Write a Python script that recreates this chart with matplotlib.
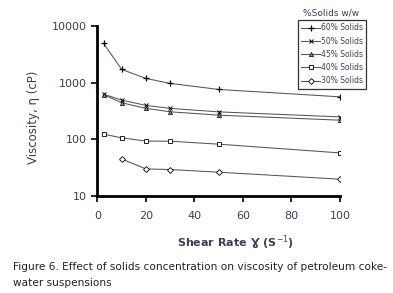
import matplotlib
matplotlib.use("Agg")
import matplotlib.pyplot as plt

shear_60 = [2.5, 10, 20, 30, 50, 100]
visc_60 = [4900, 1700, 1180, 965, 755, 560]
shear_50 = [2.5, 10, 20, 30, 50, 100]
visc_50 = [625, 490, 395, 350, 304, 248]
shear_45 = [2.5, 10, 20, 30, 50, 100]
visc_45 = [610, 440, 350, 305, 266, 217]
shear_40 = [2.5, 10, 20, 30, 50, 100]
visc_40 = [123, 106, 93, 92.5, 82, 57.5]
shear_30 = [10, 20, 30, 50, 100]
visc_30 = [45, 30, 29.3, 26.3, 19.8]
labels = ["60% Solids", "50% Solids", "45% Solids", "40% Solids", "30% Solids"]
xticks = [0, 20, 40, 60, 80, 100]
yticks = [10, 100, 1000, 10000]

txt = "#3a3f55"
fig = plt.figure(figsize=(3.93, 2.93), dpi=100)
ax = fig.add_axes([0.248, 0.331, 0.617, 0.581])

lc = "#555555"
series = [
    (shear_60, visc_60, dict(marker="+", ms=4.5, mew=0.9)),
    (shear_50, visc_50, dict(marker="x", ms=3.5, mew=0.7)),
    (shear_45, visc_45, dict(marker="^", ms=3, mew=0.5, mfc="#888888")),
    (shear_40, visc_40, dict(marker="s", ms=3, mew=0.6, mfc="white")),
    (shear_30, visc_30, dict(marker="D", ms=3, mew=0.6, mfc="white")),
]
for (x, y, st), lab in zip(series, labels):
    ax.plot(x, y, color=lc, lw=0.75, mec="black", label=lab, **st)

ax.set_yscale("log")
ax.set_xlim(0, 100)
ax.set_ylim(10, 10000)
ax.set_xticks(xticks)
ax.set_xticklabels([str(v) for v in xticks])
ax.set_yticks(yticks)
ax.set_yticklabels([str(v) for v in yticks])
ax.minorticks_off()
for s in ["top", "right"]:
    ax.spines[s].set_visible(False)
for s in ["left", "bottom"]:
    ax.spines[s].set_linewidth(2.0)
ax.tick_params(axis="both", direction="out", length=4, width=1.2, color="black",
               labelsize=8, labelcolor=txt)
ax.tick_params(axis="x", pad=7)
ax.tick_params(axis="y", pad=4)

fig.text(0.085, 0.60, "Viscosity, \u03b7 (cP)", rotation=90, ha="center", va="center",
         fontsize=8.5, color=txt)
fig.text(0.60, 0.173, "Shear Rate \u0194 (S$^{-1}$)", ha="center", va="center",
         fontsize=8, fontweight="bold", color=txt)

leg = fig.legend(loc="upper left", bbox_to_anchor=(298/393, 1 - 20/293), fontsize=5.5,
                 frameon=True, fancybox=False, edgecolor="black", handlelength=2.4,
                 handletextpad=0.1, borderpad=0.45, labelspacing=0.55, borderaxespad=0)
leg.get_frame().set_linewidth(0.9)
for t in leg.get_texts():
    t.set_color(txt)
fig.text(331.5/393, 1 - 12.7/293, "%Solids w/w", ha="center", va="center",
         fontsize=6.5, color=txt)

fig.text(13/393, 1 - 266.5/293, "Figure 6. Effect of solids concentration on viscosity of petroleum coke-",
         ha="left", va="center", fontsize=7.6, color="#222222")
fig.text(13/393, 1 - 283/293, "water suspensions",
         ha="left", va="center", fontsize=7.6, color="#222222")

fig.savefig("out.png", dpi=100)
